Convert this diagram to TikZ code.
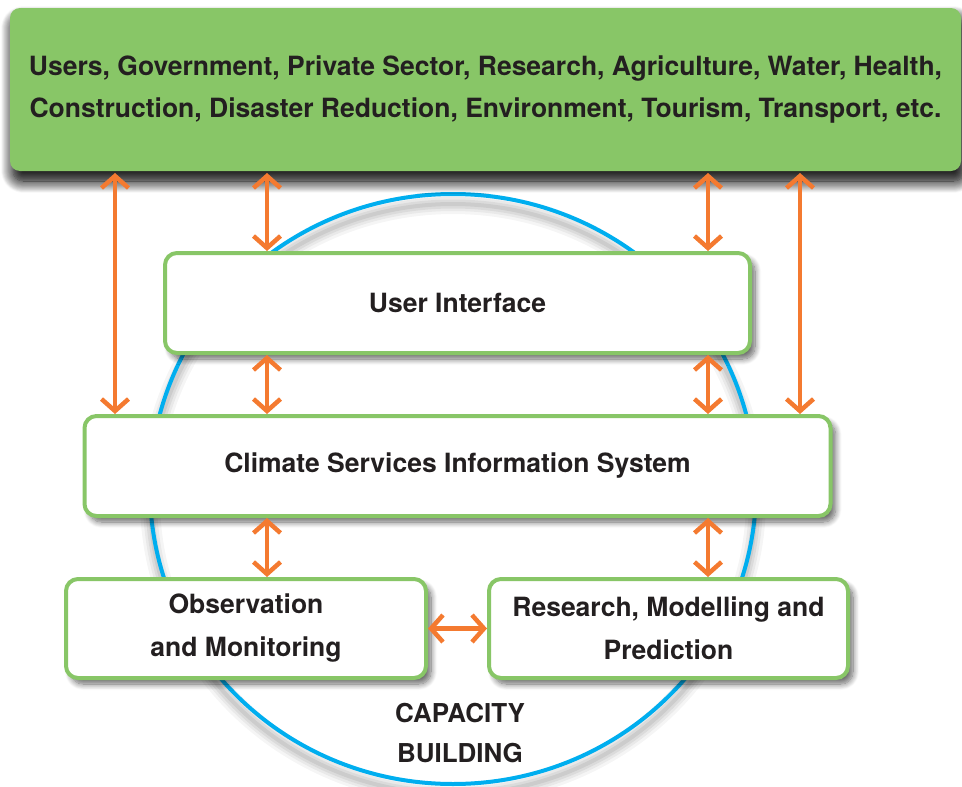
\documentclass[tikz,border=0pt]{standalone}
\usepackage{fontspec}
\setmainfont{TeX Gyre Heros}
\usetikzlibrary{arrows.meta, shadows.blur, positioning}
\definecolor{leaf}{HTML}{88C667}
\definecolor{tang}{HTML}{F47A30}
\definecolor{sky}{HTML}{00AEEF}
\definecolor{ink}{HTML}{231F20}
\tikzset{
  box/.style={rectangle, draw=leaf, line width=4pt, fill=white,
    rounded corners=12pt, align=center, text=ink, inner sep=0pt,
    font=\fontsize{26.5}{43}\selectfont\bfseries,
    blur shadow={shadow xshift=5pt, shadow yshift=-6pt, shadow blur radius=6pt,
      shadow blur steps=10, shadow opacity=60}},
  userbox/.style={box, draw=none, fill=leaf, rounded corners=10pt,
    font=\fontsize{26.5}{42}\selectfont\bfseries,
    blur shadow={shadow xshift=3pt, shadow yshift=-10pt, shadow blur radius=12pt,
      shadow blur steps=16, shadow opacity=70}},
  link/.style={draw=tang, line width=4.5pt,
    {Straight Barb[length=12pt,width=27pt]}-{Straight Barb[length=12pt,width=27pt]}}
}

\begin{document}
\begin{tikzpicture}[x=1pt, y=-1pt]
    \useasboundingbox (0,0) rectangle (962,787);
    % capacity building ring
    \foreach \w/\o in {20/0.04, 14/0.05, 9/0.06, 4/0.07}
        \draw [black, opacity=\o, line width=\w pt] (453,499) ellipse [x radius=303, y radius=295];
    \draw [sky, line width=4pt] (453,489) ellipse [x radius=303, y radius=295];
    \node [font=\fontsize{26}{40}\selectfont\bfseries, text=ink, align=center] (cb) at (460,733) {CAPACITY\\BUILDING};

    \node [userbox, minimum width=951pt, minimum height=163pt] (users) at (485.5,89.5)
        {\rule{0pt}{12pt}Users, Government, Private Sector, Research, Agriculture, Water, Health,\\
         Construction, Disaster Reduction, Environment, Tourism, Transport, etc.};
    \node [box, minimum width=585pt, minimum height=100pt] (ui) at (457.5,303) {User Interface};
    \node [box, minimum width=746pt, minimum height=100pt, below of=ui, node distance=163pt] (csis) {Climate Services Information System};
    \node [box, minimum width=360pt, minimum height=99pt] (obs) at (246,628.5) {Observation\\and Monitoring};
    \node [box, minimum width=359pt, minimum height=99pt] (rmp) at (668.5,628.5) {Research, Modelling and\\Prediction};

    \path [link] (users.south -| 115,0) -- (csis.north -| 115,0);
    \path [link] (users.south -| 267,0) -- (ui.north -| 267,0);
    \path [link] (users.south -| 708,0) -- (ui.north -| 708,0);
    \path [link] (users.south -| 800,0) -- (csis.north -| 800,0);
    \path [link] (ui.south -| 267,0) -- (csis.north -| 267,0);
    \path [link] (ui.south -| 708,0) -- (csis.north -| 708,0);
    \path [link] (csis.south -| 267,0) -- (obs.north -| 267,0);
    \path [link] (csis.south -| 708,0) -- (rmp.north -| 708,0);
    \path [link] (obs.east) -- (rmp.west);
\end{tikzpicture}
\end{document}
